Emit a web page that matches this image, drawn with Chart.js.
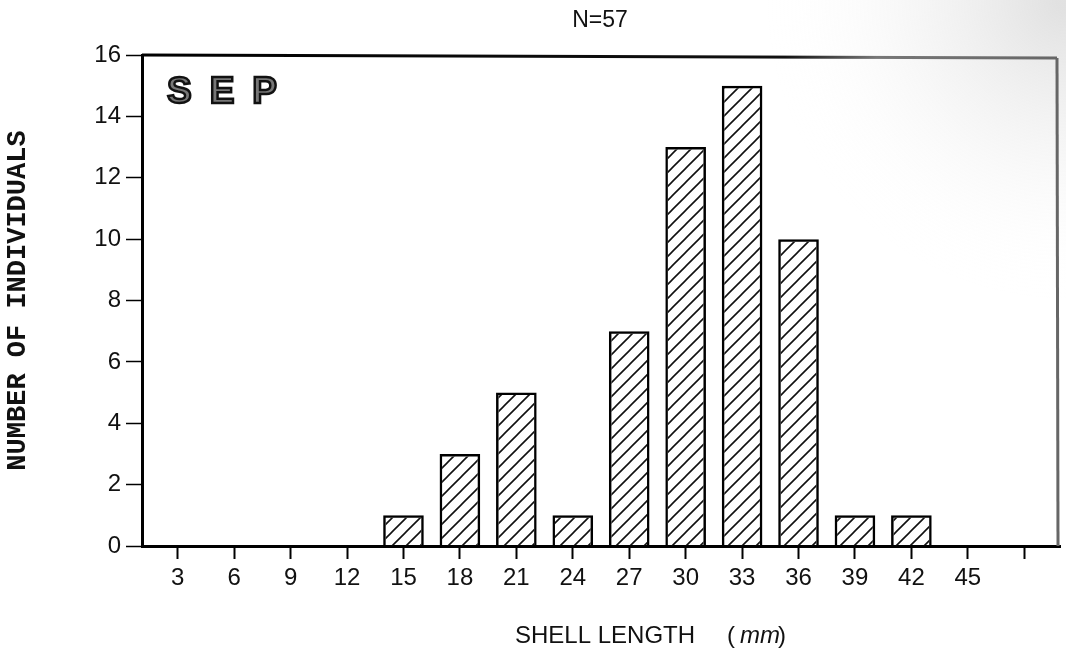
<!DOCTYPE html>
<html>
<head>
<meta charset="utf-8">
<script src="https://cdn.jsdelivr.net/npm/chart.js@4/dist/chart.umd.min.js"></script>
<style>
  html, body { margin: 0; padding: 0; background: #fff; }
  #wrap { width: 1066px; height: 656px; position: relative; }
</style>
</head>
<body>
<div id="wrap"><canvas id="chart" width="1066" height="656"></canvas></div>
<script>
// shell length classes (mm) and counts
const sizes = [3, 6, 9, 12, 15, 18, 21, 24, 27, 30, 33, 36, 39, 42, 45];
const counts = [0, 0, 0, 0, 1, 3, 5, 1, 7, 13, 15, 10, 1, 1, 0];
const xTicks = [3, 6, 9, 12, 15, 18, 21, 24, 27, 30, 33, 36, 39, 42, 45, 48];
const xTickLabels = ['3', '6', '9', '12', '15', '18', '21', '24', '27', '30', '33', '36', '39', '42', '45', ''];
const yTicks = [0, 2, 4, 6, 8, 10, 12, 14, 16];
const yTickLabels = ['0', '2', '4', '6', '8', '10', '12', '14', '16'];
const monthLabel = 'SEP';
const totalLabel = 'N=57';

// hatch pattern for the bars
function makeHatch() {
    const c = document.createElement('canvas');
    c.width = 14; c.height = 14;
    const g = c.getContext('2d');
    g.strokeStyle = '#111';
    g.lineWidth = 1.6;
    g.beginPath();
    g.moveTo(-2, 16); g.lineTo(16, -2);
    g.moveTo(-2, 2); g.lineTo(2, -2);
    g.moveTo(12, 16); g.lineTo(16, 12);
    g.stroke();
    return g.createPattern(c, 'repeat');
}

const decor = {
    id: 'decor',
    beforeDraw(chart) {
        const ctx = chart.ctx;
        // faint scan shading in the top right corner
        const rg = ctx.createRadialGradient(1066, 0, 10, 1066, 0, 300);
        rg.addColorStop(0, 'rgba(170,170,170,0.35)');
        rg.addColorStop(0.5, 'rgba(200,200,200,0.15)');
        rg.addColorStop(1, 'rgba(255,255,255,0)');
        ctx.save();
        ctx.fillStyle = rg;
        ctx.fillRect(700, 0, 366, 330);
        ctx.restore();
    },
    afterDraw(chart) {
        const ctx = chart.ctx;
        const a = chart.chartArea;
        ctx.save();
        // top and right frame
        const lg = ctx.createLinearGradient(a.left, 0, a.right, 0);
        lg.addColorStop(0, '#000');
        lg.addColorStop(0.7, '#111');
        lg.addColorStop(0.8, '#777');
        lg.addColorStop(1, '#666');
        ctx.strokeStyle = lg;
        ctx.lineWidth = 3;
        ctx.beginPath();
        ctx.moveTo(a.left, a.top);
        ctx.lineTo(a.right - 3, a.top + 3);
        ctx.stroke();
        ctx.strokeStyle = '#666';
        ctx.beginPath();
        ctx.moveTo(a.right - 3, a.top + 3);
        ctx.lineTo(a.right - 2, a.bottom);
        ctx.stroke();

        // month label
        ctx.font = 'bold 37px "Liberation Sans", Arial, sans-serif';
        ctx.letterSpacing = '18px';
        ctx.textBaseline = 'alphabetic';
        ctx.fillStyle = '#777';
        ctx.strokeStyle = '#111';
        ctx.lineWidth = 2.5;
        ctx.fillText(monthLabel, a.left + 25, 103);
        ctx.strokeText(monthLabel, a.left + 25, 103);
        ctx.letterSpacing = '0px';

        // N label
        ctx.fillStyle = '#111';
        ctx.font = '23px "Liberation Sans", Arial, sans-serif';
        ctx.textAlign = 'center';
        ctx.textBaseline = 'middle';
        ctx.fillText(totalLabel, 600, 21);

        // x axis title
        ctx.textAlign = 'left';
        ctx.font = '24px "Liberation Sans", Arial, sans-serif';
        ctx.fillText('SHELL LENGTH', 515, 636);
        ctx.fillText('(', 727, 636);
        ctx.font = 'italic 24px "Liberation Sans", Arial, sans-serif';
        ctx.fillText('mm', 740, 636);
        ctx.font = '24px "Liberation Sans", Arial, sans-serif';
        ctx.fillText(')', 778, 636);
        ctx.restore();
    }
};

new Chart(document.getElementById('chart'), {
    type: 'bar',
    data: {
        datasets: [{
            data: sizes.map((s, i) => ({ x: s, y: counts[i] })),
            backgroundColor: makeHatch(),
            borderColor: '#000',
            borderWidth: 2.5,
            barPercentage: 0.9,
            categoryPercentage: 0.8
        }]
    },
    options: {
        responsive: false,
        animation: false,
        layout: { padding: { top: 55, right: 6, bottom: 0, left: 0 } },
        plugins: { legend: { display: false }, tooltip: { enabled: false } },
        scales: {
            x: {
                type: 'linear',
                min: 1.1,
                max: 49.9,
                offset: false,
                afterBuildTicks: s => { s.ticks = xTicks.map(v => ({ value: v })); },
                afterFit: s => { s.height = 110; },
                grid: { drawOnChartArea: false, offset: false, tickLength: 13, tickWidth: 2, tickColor: '#000' },
                border: { display: true, color: '#000', width: 3 },
                ticks: {
                    autoSkip: false,
                    maxRotation: 0,
                    padding: 5,
                    color: '#111',
                    font: { family: '"Liberation Sans", Arial, sans-serif', size: 24 },
                    callback: (v, i) => xTickLabels[i]
                }
            },
            y: {
                min: 0,
                max: 16,
                afterBuildTicks: s => { s.ticks = yTicks.map(v => ({ value: v })); },
                afterFit: s => { s.width = 142; },
                grid: { drawOnChartArea: false, tickLength: 16, tickWidth: 1.5, tickColor: '#000' },
                border: { display: true, color: '#000', width: 3 },
                ticks: {
                    padding: 5,
                    color: '#111',
                    font: { family: '"Liberation Sans", Arial, sans-serif', size: 24 },
                    callback: (v, i) => yTickLabels[i]
                },
                title: {
                    display: true,
                    text: 'NUMBER OF INDIVIDUALS',
                    color: '#111',
                    padding: { top: 2, bottom: 0 },
                    font: { family: '"Liberation Mono", "Courier New", monospace', size: 27, weight: 'bold' }
                }
            }
        }
    },
    plugins: [decor]
});
</script>
</body>
</html>
